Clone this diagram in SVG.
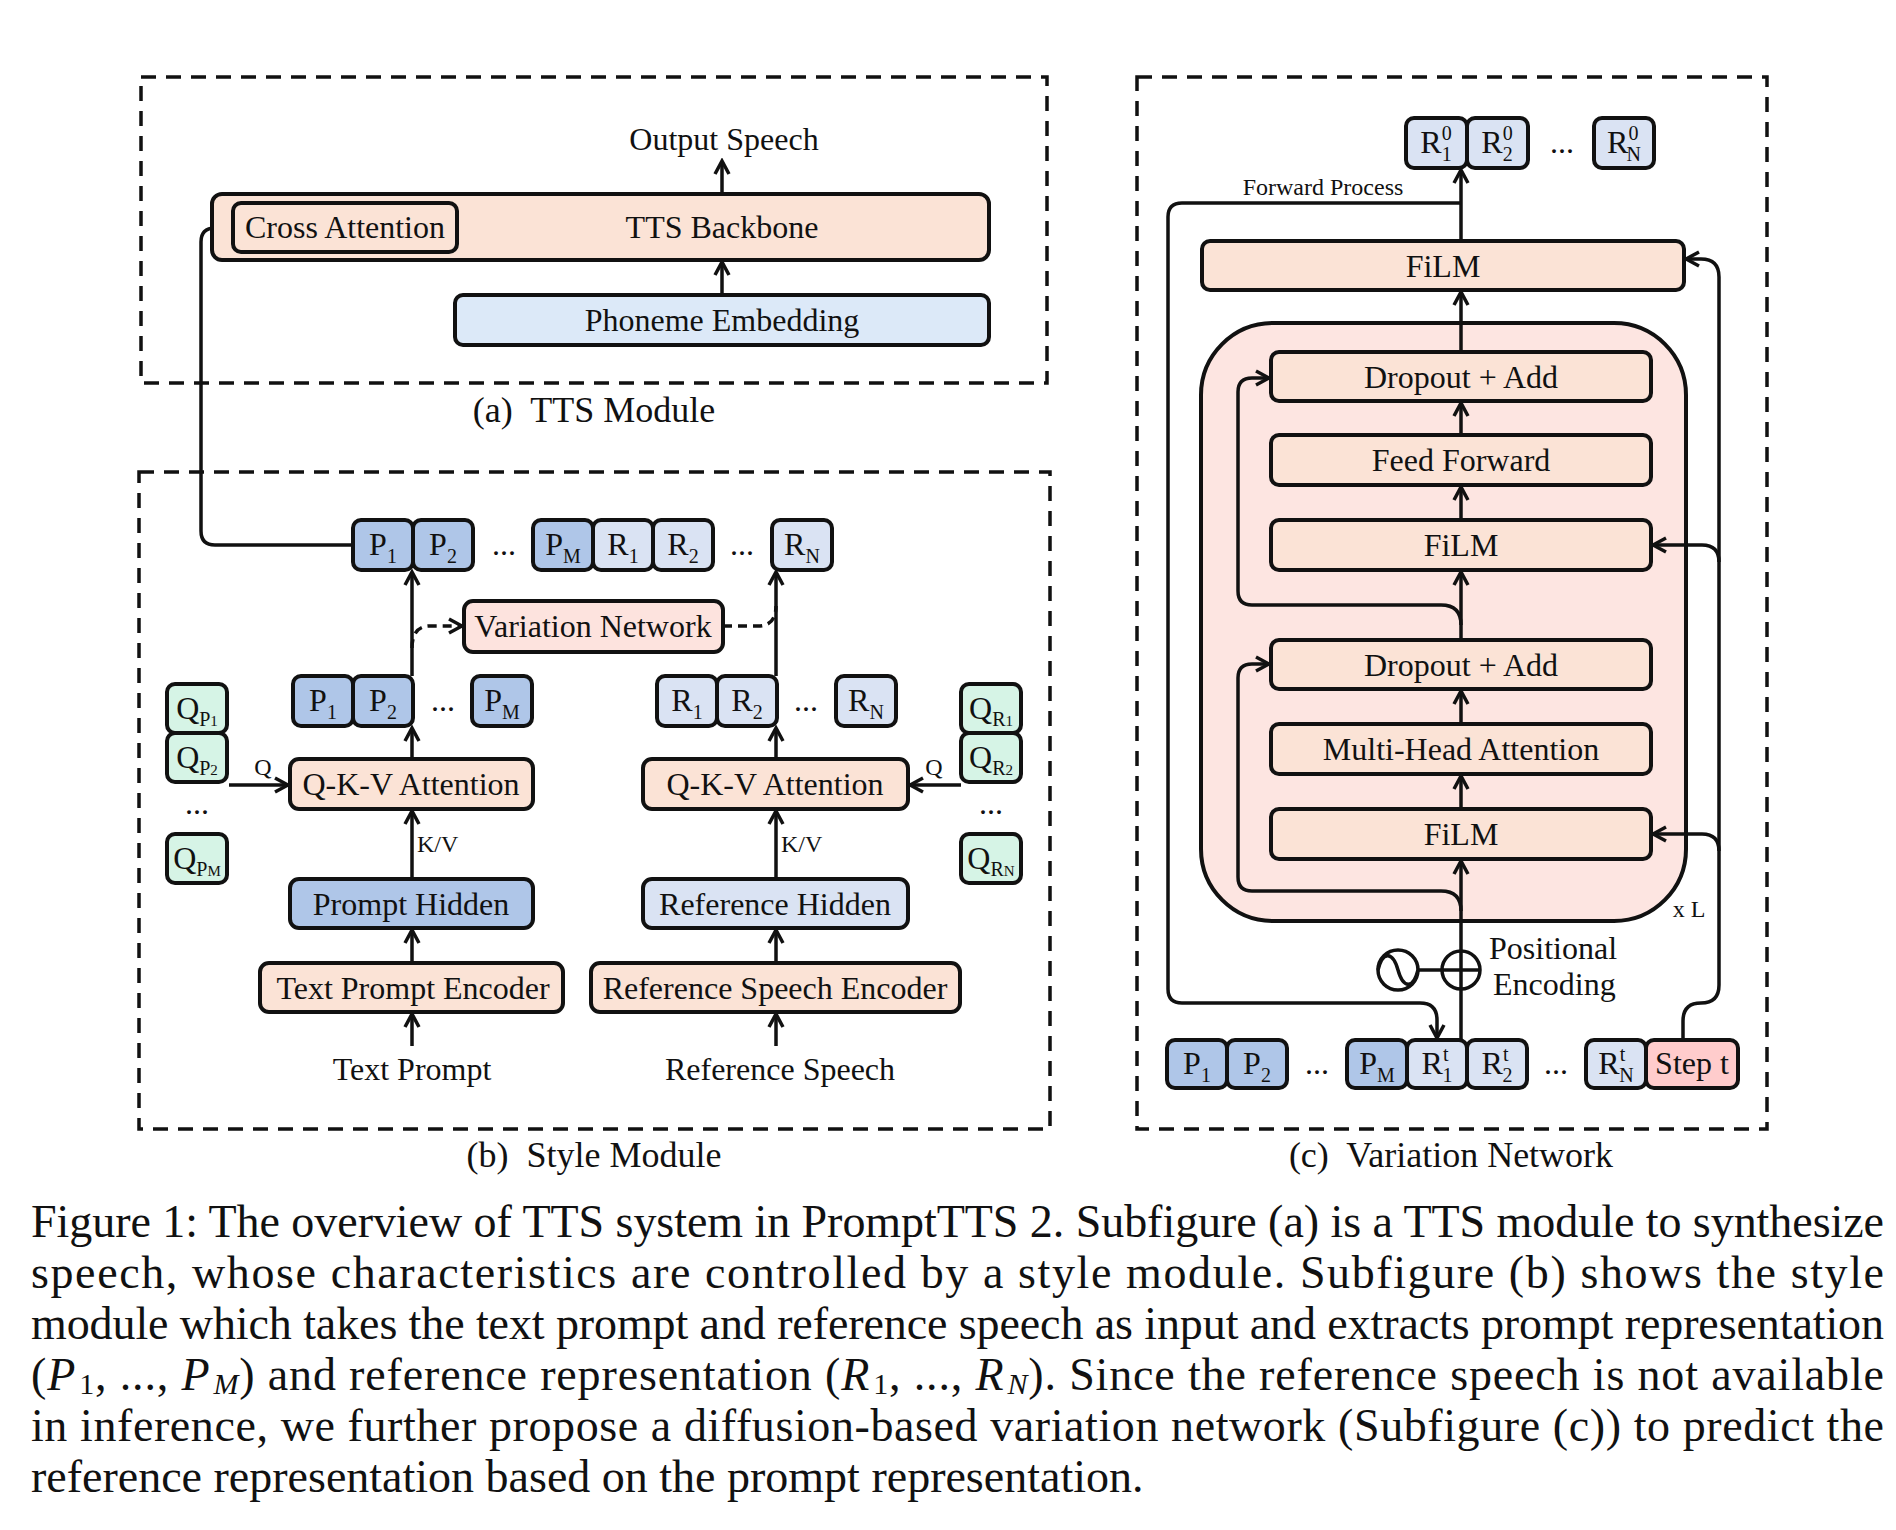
<svg xmlns="http://www.w3.org/2000/svg" width="1896" height="1530" viewBox="0 0 1896 1530">
<defs>
<style>
.b{stroke:#111;stroke-width:4}
.pe{fill:#FBE3D6}.pb{fill:#DCE9F8}.tp{fill:#AFC6E8}.tr{fill:#DAE3F3}.tq{fill:#D6F4E6}.vn{fill:#FDE3DE}.st{fill:#FFCCCC}.big{fill:#FDE5E1;stroke:#111;stroke-width:4}
.t{font-family:"Liberation Serif","Times New Roman",serif;font-size:32px;fill:#111}
.c{text-anchor:middle}
.s{font-size:24px}
.cap{font-size:36px}
.fig{font-family:"Liberation Serif","Times New Roman",serif;font-size:46px;fill:#111}
.ln{fill:none;stroke:#111;stroke-width:3.5}
.ar{marker-end:url(#ah)}
.dl{stroke-dasharray:9 6}
.dash{fill:none;stroke:#111;stroke-width:3.5;stroke-dasharray:15 10}
</style>
<marker id="ah" viewBox="0 0 20 20" refX="17" refY="10" markerWidth="20" markerHeight="20" markerUnits="userSpaceOnUse" orient="auto"><path d="M4,3 L17,10 L4,17" fill="none" stroke="#111" stroke-width="3.5"/></marker>
</defs>
<rect width="1896" height="1530" fill="#fff"/>

<!-- panel frames -->
<g id="frames">
<rect class="dash" x="141" y="77" width="906" height="306"/>
<rect class="dash" x="139" y="472" width="911" height="657"/>
<rect class="dash" x="1137" y="77" width="630" height="1052"/>
<text class="t c cap" x="594" y="422">(a)&#160; TTS Module</text>
<text class="t c cap" x="594" y="1167">(b)&#160; Style Module</text>
<text class="t c cap" x="1451" y="1167">(c)&#160; Variation Network</text>
</g>

<g id="xl-block"><rect class="big" x="1201" y="323" width="485" height="598" rx="72"/></g>

<g id="connectors">
<path class="ln ar" d="M722,194 V161"/>
<path class="ln ar" d="M722,295 V262"/>
<path class="ln ar" d="M353,545 H215 Q201,545 201,531 V242 Q201,228 215,228 H231"/>
<path class="ln ar" d="M412,676 V572"/>
<path class="ln ar" d="M776,676 V572"/>
<path class="ln ar dl" d="M412,648 Q412,626 430,626 H462"/>
<path class="ln dl" d="M723,626 H758 Q776,626 776,606"/>
<path class="ln ar" d="M412,759 V728"/>
<path class="ln ar" d="M776,759 V728"/>
<path class="ln ar" d="M229,785 H288"/>
<path class="ln ar" d="M961,785 H910"/>
<path class="ln ar" d="M412,879 V811"/>
<path class="ln ar" d="M776,879 V811"/>
<path class="ln ar" d="M412,963 V930"/>
<path class="ln ar" d="M776,963 V930"/>
<path class="ln ar" d="M412,1046 V1014"/>
<path class="ln ar" d="M776,1046 V1014"/>
<path class="ln ar" d="M1461,241 V170"/>
<path class="ln ar" d="M1461,203 H1182 Q1168,203 1168,217 V989 Q1168,1003 1182,1003 H1420 Q1437,1003 1437,1020 V1038"/>
<path class="ln ar" d="M1461,352 V292"/>
<path class="ln ar" d="M1461,435 V403"/>
<path class="ln ar" d="M1461,520 V487"/>
<path class="ln ar" d="M1461,640 V572"/>
<path class="ln ar" d="M1461,724 V691"/>
<path class="ln ar" d="M1461,809 V776"/>
<path class="ln ar" d="M1461,1040 V861"/>
<path class="ln ar" d="M1461,625 Q1461,605 1441,605 H1252 Q1238,605 1238,591 V392 Q1238,378 1252,378 H1269"/>
<path class="ln ar" d="M1461,911 Q1461,891 1441,891 H1252 Q1238,891 1238,877 V678 Q1238,664 1252,664 H1269"/>
<path class="ln ar" d="M1683,1040 V1021 Q1683,1003 1701,1003 Q1719,1003 1719,985 V277 Q1719,259 1701,259 H1686"/>
<path class="ln ar" d="M1719,562 Q1719,545 1702,545 H1653"/>
<path class="ln ar" d="M1719,851 Q1719,834 1702,834 H1653"/>
<path class="ln" d="M1418,970 H1480"/>
</g>

<!-- panel (a) -->
<g id="output-speech"><text class="t c" x="724" y="150">Output Speech</text></g>
<g id="tts-backbone"><rect class="b pe" x="212" y="194" width="777" height="66" rx="10"/><text class="t c" x="722" y="238">TTS Backbone</text></g>
<g id="cross-attention"><rect class="b pe" x="233" y="203" width="224" height="49" rx="8"/><text class="t c" x="345" y="238">Cross Attention</text></g>
<g id="phoneme-embedding"><rect class="b pb" x="455" y="295" width="534" height="50" rx="8"/><text class="t c" x="722" y="331">Phoneme Embedding</text></g>

<!-- panel (b) top row -->
<g id="b-top-p1"><rect class="b tp" x="353" y="520" width="60" height="50" rx="8"/><text class="t c" x="383" y="555">P<tspan dy="8" font-size="20">1</tspan></text></g>
<g id="b-top-p2"><rect class="b tp" x="413" y="520" width="60" height="50" rx="8"/><text class="t c" x="443" y="555">P<tspan dy="8" font-size="20">2</tspan></text></g>
<text class="t c" x="504" y="555">...</text>
<g id="b-top-pm"><rect class="b tp" x="533" y="520" width="60" height="50" rx="8"/><text class="t c" x="563" y="555">P<tspan dy="8" font-size="20">M</tspan></text></g>
<g id="b-top-r1"><rect class="b tr" x="593" y="520" width="60" height="50" rx="8"/><text class="t c" x="623" y="555">R<tspan dy="8" font-size="20">1</tspan></text></g>
<g id="b-top-r2"><rect class="b tr" x="653" y="520" width="60" height="50" rx="8"/><text class="t c" x="683" y="555">R<tspan dy="8" font-size="20">2</tspan></text></g>
<text class="t c" x="742" y="555">...</text>
<g id="b-top-rn"><rect class="b tr" x="772" y="520" width="60" height="50" rx="8"/><text class="t c" x="802" y="555">R<tspan dy="8" font-size="20">N</tspan></text></g>

<g id="variation-network"><rect class="b vn" x="464" y="601" width="259" height="51" rx="9"/><text class="t c" x="593" y="637">Variation Network</text></g>

<g id="b-mid-p1"><rect class="b tp" x="293" y="676" width="60" height="50" rx="8"/><text class="t c" x="323" y="711">P<tspan dy="8" font-size="20">1</tspan></text></g>
<g id="b-mid-p2"><rect class="b tp" x="353" y="676" width="60" height="50" rx="8"/><text class="t c" x="383" y="711">P<tspan dy="8" font-size="20">2</tspan></text></g>
<text class="t c" x="443" y="711">...</text>
<g id="b-mid-pm"><rect class="b tp" x="472" y="676" width="60" height="50" rx="8"/><text class="t c" x="502" y="711">P<tspan dy="8" font-size="20">M</tspan></text></g>
<g id="b-mid-r1"><rect class="b tr" x="657" y="676" width="60" height="50" rx="8"/><text class="t c" x="687" y="711">R<tspan dy="8" font-size="20">1</tspan></text></g>
<g id="b-mid-r2"><rect class="b tr" x="717" y="676" width="60" height="50" rx="8"/><text class="t c" x="747" y="711">R<tspan dy="8" font-size="20">2</tspan></text></g>
<text class="t c" x="806" y="711">...</text>
<g id="b-mid-rn"><rect class="b tr" x="836" y="676" width="60" height="50" rx="8"/><text class="t c" x="866" y="711">R<tspan dy="8" font-size="20">N</tspan></text></g>

<g id="qp1"><rect class="b tq" x="167" y="684" width="60" height="49" rx="8"/><text class="t c" x="197" y="719">Q<tspan dy="7" font-size="20">P</tspan><tspan font-size="15">1</tspan></text></g>
<g id="qp2"><rect class="b tq" x="167" y="733" width="60" height="49" rx="8"/><text class="t c" x="197" y="768">Q<tspan dy="7" font-size="20">P</tspan><tspan font-size="15">2</tspan></text></g>
<text class="t c" x="197" y="814">...</text>
<g id="qpm"><rect class="b tq" x="167" y="834" width="60" height="49" rx="8"/><text class="t c" x="197" y="869">Q<tspan dy="7" font-size="20">P</tspan><tspan font-size="15">M</tspan></text></g>
<g id="qr1"><rect class="b tq" x="961" y="684" width="60" height="49" rx="8"/><text class="t c" x="991" y="719">Q<tspan dy="7" font-size="20">R</tspan><tspan font-size="15">1</tspan></text></g>
<g id="qr2"><rect class="b tq" x="961" y="733" width="60" height="49" rx="8"/><text class="t c" x="991" y="768">Q<tspan dy="7" font-size="20">R</tspan><tspan font-size="15">2</tspan></text></g>
<text class="t c" x="991" y="814">...</text>
<g id="qrn"><rect class="b tq" x="961" y="834" width="60" height="49" rx="8"/><text class="t c" x="991" y="869">Q<tspan dy="7" font-size="20">R</tspan><tspan font-size="15">N</tspan></text></g>

<g id="qkv-left"><rect class="b pe" x="290" y="759" width="243" height="50" rx="9"/><text class="t c" x="411" y="795">Q-K-V Attention</text></g>
<g id="qkv-right"><rect class="b pe" x="643" y="759" width="265" height="50" rx="9"/><text class="t c" x="775" y="795">Q-K-V Attention</text></g>
<text class="t c s" x="263" y="775">Q</text>
<text class="t c s" x="934" y="775">Q</text>
<text class="t s" x="417" y="852">K/V</text>
<text class="t s" x="781" y="852">K/V</text>

<g id="prompt-hidden"><rect class="b tp" x="290" y="879" width="243" height="49" rx="9"/><text class="t c" x="411" y="915">Prompt Hidden</text></g>
<g id="reference-hidden"><rect class="b tr" x="643" y="879" width="265" height="49" rx="9"/><text class="t c" x="775" y="915">Reference Hidden</text></g>
<g id="text-prompt-encoder"><rect class="b pe" x="260" y="963" width="303" height="49" rx="9"/><text class="t c" x="413" y="999">Text Prompt Encoder</text></g>
<g id="reference-speech-encoder"><rect class="b pe" x="591" y="963" width="369" height="49" rx="9"/><text class="t c" x="775" y="999">Reference Speech Encoder</text></g>
<g id="text-prompt"><text class="t c" x="412" y="1080">Text Prompt</text></g>
<g id="reference-speech"><text class="t c" x="780" y="1080">Reference Speech</text></g>

<!-- panel (c) -->
<g id="r0-1"><rect class="b tr" x="1406" y="118" width="61" height="50" rx="8"/><text class="t c" x="1436" y="153">R<tspan dy="-13" font-size="20">0</tspan><tspan dx="-10" dy="21" font-size="20">1</tspan></text></g>
<g id="r0-2"><rect class="b tr" x="1467" y="118" width="61" height="50" rx="8"/><text class="t c" x="1497" y="153">R<tspan dy="-13" font-size="20">0</tspan><tspan dx="-10" dy="21" font-size="20">2</tspan></text></g>
<text class="t c" x="1562" y="153">...</text>
<g id="r0-n"><rect class="b tr" x="1594" y="118" width="60" height="50" rx="8"/><text class="t c" x="1624" y="153">R<tspan dy="-13" font-size="20">0</tspan><tspan dx="-12" dy="21" font-size="20">N</tspan></text></g>
<text class="t c s" x="1323" y="195">Forward Process</text>

<g id="film-top"><rect class="b pe" x="1202" y="241" width="482" height="49" rx="8"/><text class="t c" x="1443" y="277">FiLM</text></g>
<g id="dropout-add-1"><rect class="b pe" x="1271" y="352" width="380" height="49" rx="8"/><text class="t c" x="1461" y="388">Dropout + Add</text></g>
<g id="feed-forward"><rect class="b pe" x="1271" y="435" width="380" height="50" rx="8"/><text class="t c" x="1461" y="471">Feed Forward</text></g>
<g id="film-mid"><rect class="b pe" x="1271" y="520" width="380" height="50" rx="8"/><text class="t c" x="1461" y="556">FiLM</text></g>
<g id="dropout-add-2"><rect class="b pe" x="1271" y="640" width="380" height="49" rx="8"/><text class="t c" x="1461" y="676">Dropout + Add</text></g>
<g id="multi-head-attention"><rect class="b pe" x="1271" y="724" width="380" height="50" rx="8"/><text class="t c" x="1461" y="760">Multi-Head Attention</text></g>
<g id="film-bottom"><rect class="b pe" x="1271" y="809" width="380" height="50" rx="8"/><text class="t c" x="1461" y="845">FiLM</text></g>
<text class="t c s" x="1689" y="917">x L</text>

<g id="positional-encoding">
<circle cx="1398" cy="970" r="20" fill="none" stroke="#111" stroke-width="3.5"/>
<path d="M1378,970 C1383,950 1393,952 1398,970 C1403,988 1413,990 1418,970" fill="none" stroke="#111" stroke-width="3.5"/>
<circle cx="1461" cy="970" r="19" fill="none" stroke="#111" stroke-width="3.5"/>
<text class="t" x="1489" y="959" font-size="24">Positional</text>
<text class="t" x="1493" y="995" font-size="24">Encoding</text>
</g>

<g id="c-p1"><rect class="b tp" x="1167" y="1040" width="60" height="48" rx="8"/><text class="t c" x="1197" y="1074">P<tspan dy="8" font-size="20">1</tspan></text></g>
<g id="c-p2"><rect class="b tp" x="1227" y="1040" width="60" height="48" rx="8"/><text class="t c" x="1257" y="1074">P<tspan dy="8" font-size="20">2</tspan></text></g>
<text class="t c" x="1317" y="1074">...</text>
<g id="c-pm"><rect class="b tp" x="1347" y="1040" width="60" height="48" rx="8"/><text class="t c" x="1377" y="1074">P<tspan dy="8" font-size="20">M</tspan></text></g>
<g id="c-r1"><rect class="b tr" x="1407" y="1040" width="60" height="48" rx="8"/><text class="t c" x="1437" y="1074">R<tspan dy="-13" font-size="20">t</tspan><tspan dx="-6" dy="21" font-size="20">1</tspan></text></g>
<g id="c-r2"><rect class="b tr" x="1467" y="1040" width="60" height="48" rx="8"/><text class="t c" x="1497" y="1074">R<tspan dy="-13" font-size="20">t</tspan><tspan dx="-6" dy="21" font-size="20">2</tspan></text></g>
<text class="t c" x="1556" y="1074">...</text>
<g id="c-rn"><rect class="b tr" x="1586" y="1040" width="60" height="48" rx="8"/><text class="t c" x="1616" y="1074">R<tspan dy="-13" font-size="20">t</tspan><tspan dx="-6" dy="21" font-size="20">N</tspan></text></g>
<g id="step-t"><rect class="b st" x="1646" y="1040" width="92" height="48" rx="8"/><text class="t c" x="1692" y="1074">Step t</text></g>

<!-- figure caption -->
<g id="caption">
<text class="fig" x="31" y="1237" textLength="1853" lengthAdjust="spacing">Figure 1: The overview of TTS system in PromptTTS 2. Subfigure (a) is a TTS module to synthesize</text>
<text class="fig" x="31" y="1288" textLength="1853" lengthAdjust="spacing">speech, whose characteristics are controlled by a style module.  Subfigure (b) shows the style</text>
<text class="fig" x="31" y="1339" textLength="1853" lengthAdjust="spacing">module which takes the text prompt and reference speech as input and extracts prompt representation</text>
<text class="fig" x="31" y="1390" textLength="1853" lengthAdjust="spacing">(<tspan font-style="italic">P</tspan><tspan dx="3" dy="4" font-size="30">1</tspan><tspan dy="-4">, ..., </tspan><tspan font-style="italic">P</tspan><tspan dx="3" dy="4" font-size="30" font-style="italic">M</tspan><tspan dy="-4">) and reference representation (</tspan><tspan font-style="italic">R</tspan><tspan dx="3" dy="4" font-size="30">1</tspan><tspan dy="-4">, ..., </tspan><tspan font-style="italic">R</tspan><tspan dx="3" dy="4" font-size="30" font-style="italic">N</tspan><tspan dy="-4">). Since the reference speech is not available</tspan></text>
<text class="fig" x="31" y="1441" textLength="1853" lengthAdjust="spacing">in inference, we further propose a diffusion-based variation network (Subfigure (c)) to predict the</text>
<text class="fig" x="31" y="1492">reference representation based on the prompt representation.</text>
</g>
</svg>
